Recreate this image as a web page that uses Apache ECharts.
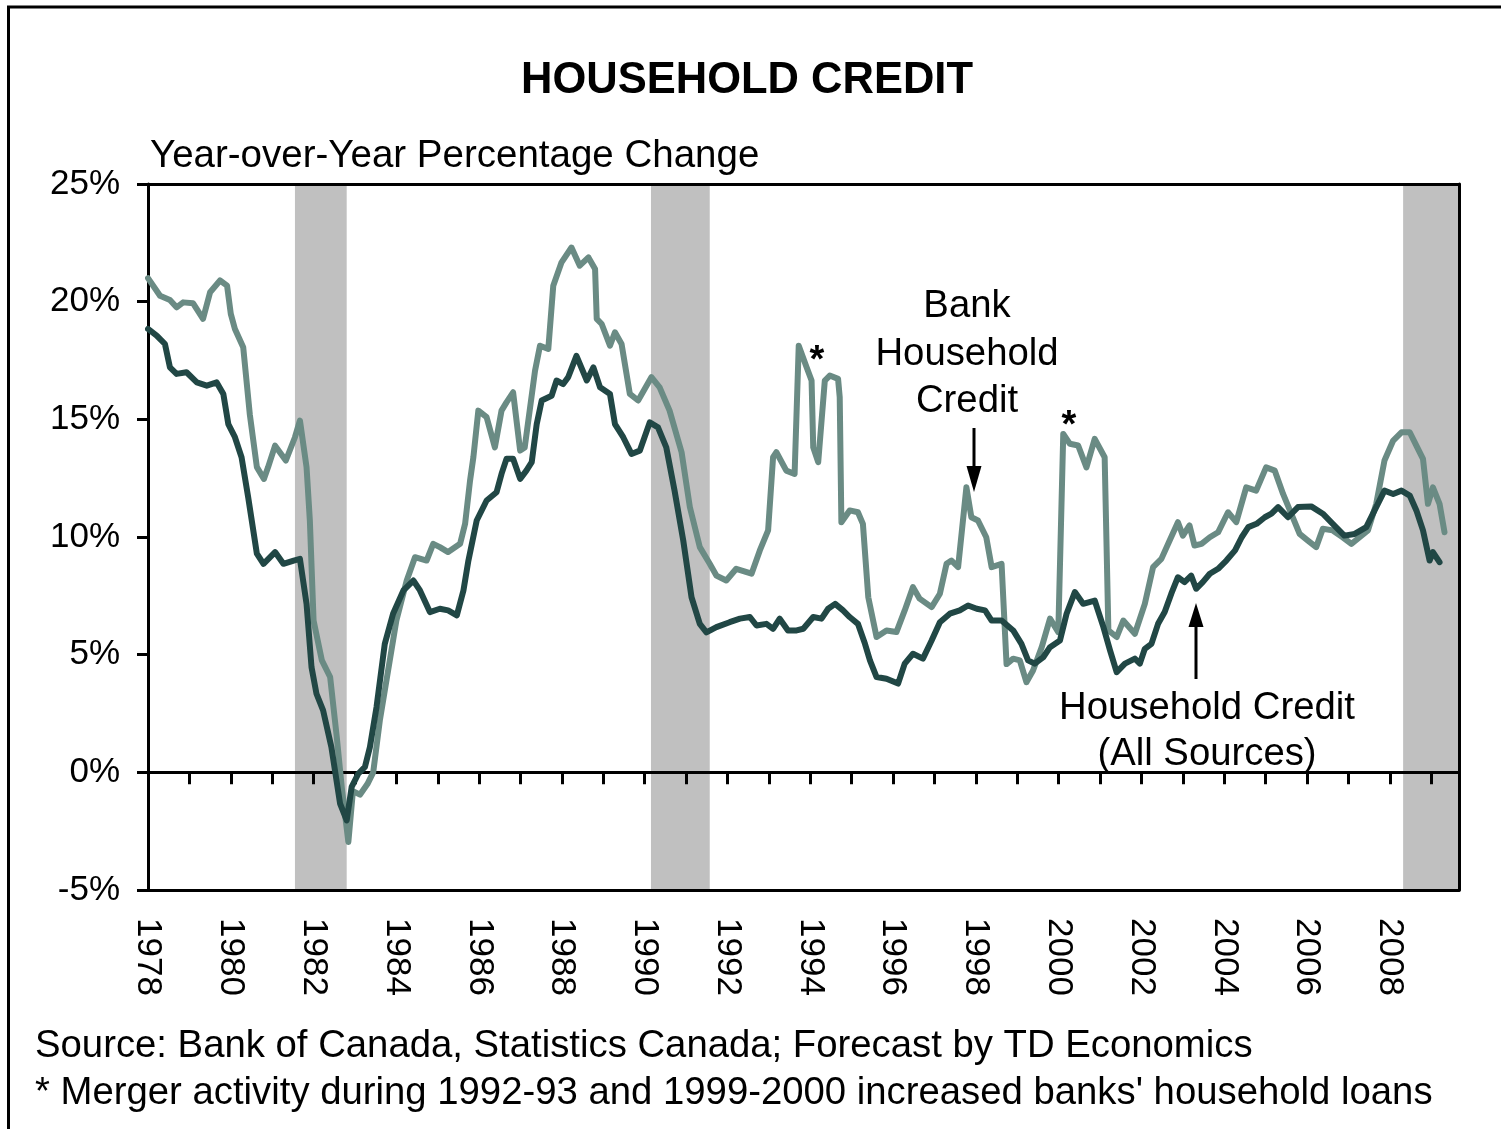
<!DOCTYPE html>
<html>
<head>
<meta charset="utf-8">
<script src="https://cdn.jsdelivr.net/npm/echarts@6/dist/echarts.min.js"></script>
<style>
html,body{margin:0;padding:0;background:#fff;}
#chart{width:1501px;height:1129px;}
</style>
</head>
<body>
<div id="chart"></div>
<script>
// ---- Data ----
const yTicks = [-5, 0, 5, 10, 15, 20, 25];
const recessions = [[1981.55, 1982.8], [1990.15, 1991.57], [2008.32, 2009.67]];

// Bank household credit, y/y % change  [year, value]
const bankCredit = [
[1978.00,21.0],[1978.29,20.25],[1978.53,20.07],[1978.69,19.76],[1978.85,19.97],[1979.09,19.93],
[1979.33,19.27],[1979.50,20.4],[1979.74,20.9],[1979.91,20.68],[1980.00,19.48],[1980.10,18.84],
[1980.30,18.06],[1980.46,15.2],[1980.63,12.97],[1980.80,12.47],[1980.90,12.96],[1981.07,13.88],
[1981.33,13.25],[1981.55,14.24],[1981.67,14.95],[1981.83,12.97],[1981.91,10.7],[1982.00,6.45],
[1982.20,4.76],[1982.40,4.05],[1982.56,1.5],[1982.68,-0.62],[1982.84,-2.96],[1982.95,-0.8],
[1983.12,-0.95],[1983.30,-0.5],[1983.44,0.0],[1983.60,2.2],[1983.80,4.33],[1984.00,6.45],
[1984.25,8.15],[1984.45,9.14],[1984.73,9.0],[1984.89,9.71],[1985.05,9.57],[1985.25,9.36],
[1985.54,9.71],[1985.66,10.56],[1985.78,12.4],[1985.86,13.39],[1985.98,15.37],[1986.18,15.09],
[1986.38,13.81],[1986.54,15.37],[1986.66,15.72],[1986.82,16.15],[1986.99,13.67],[1987.10,13.8],
[1987.35,17.07],[1987.47,18.13],[1987.67,17.99],[1987.79,20.68],[1987.99,21.67],[1988.23,22.3],
[1988.43,21.53],[1988.64,21.88],[1988.80,21.39],[1988.84,19.27],[1988.96,19.05],[1989.16,18.13],
[1989.28,18.7],[1989.44,18.2],[1989.64,16.08],[1989.84,15.8],[1990.16,16.79],[1990.36,16.36],
[1990.60,15.37],[1990.89,13.6],[1991.09,11.27],[1991.33,9.57],[1991.57,8.86],[1991.73,8.36],
[1991.97,8.15],[1992.21,8.65],[1992.58,8.44],[1992.78,9.43],[1992.98,10.28],[1993.10,13.39],
[1993.18,13.6],[1993.42,12.82],[1993.62,12.68],[1993.72,18.13],[1993.91,17.21],[1994.03,16.65],
[1994.07,13.81],[1994.19,13.18],[1994.35,16.65],[1994.47,16.86],[1994.67,16.72],[1994.71,15.94],
[1994.75,10.63],[1994.95,11.13],[1995.15,11.05],[1995.27,10.56],[1995.40,7.44],[1995.60,5.75],
[1995.84,6.03],[1996.08,5.96],[1996.28,6.88],[1996.48,7.87],[1996.64,7.38],[1996.93,7.02],
[1997.13,7.59],[1997.29,8.86],[1997.41,9.0],[1997.57,8.72],[1997.77,12.11],[1997.89,10.84],
[1998.05,10.7],[1998.25,9.99],[1998.38,8.72],[1998.62,8.86],[1998.74,4.6],[1998.90,4.83],
[1999.06,4.76],[1999.22,3.83],[1999.38,4.33],[1999.59,5.32],[1999.79,6.53],[1999.99,5.96],
[2000.11,14.38],[2000.27,13.96],[2000.47,13.89],[2000.67,12.96],[2000.87,14.17],[2001.11,13.39],
[2001.20,6.03],[2001.40,5.75],[2001.56,6.45],[2001.84,5.89],[2002.08,7.16],[2002.28,8.72],
[2002.48,9.07],[2002.68,9.85],[2002.88,10.63],[2003.00,10.06],[2003.16,10.49],[2003.28,9.64],
[2003.45,9.71],[2003.65,9.99],[2003.85,10.2],[2004.09,11.05],[2004.29,10.63],[2004.53,12.11],
[2004.77,11.97],[2005.01,12.96],[2005.22,12.82],[2005.42,11.83],[2005.62,10.98],[2005.82,10.13],
[2006.02,9.85],[2006.22,9.57],[2006.38,10.35],[2006.62,10.28],[2006.86,9.99],[2007.07,9.71],
[2007.27,9.99],[2007.47,10.28],[2007.67,11.41],[2007.87,13.25],[2008.08,14.1],[2008.28,14.45],
[2008.48,14.45],[2008.64,13.88],[2008.80,13.32],[2008.92,11.41],[2009.04,12.11],[2009.20,11.41],
[2009.32,10.2]
];

// Household credit (all sources), y/y % change  [year, value]
const householdCredit = [
[1978.00,18.84],[1978.21,18.56],[1978.41,18.2],[1978.53,17.21],[1978.69,16.93],[1978.93,17.0],
[1979.18,16.57],[1979.42,16.43],[1979.66,16.57],[1979.82,16.08],[1979.94,14.8],[1980.10,14.24],
[1980.26,13.39],[1980.42,11.69],[1980.63,9.29],[1980.79,8.86],[1981.07,9.36],[1981.27,8.86],
[1981.52,9.0],[1981.67,9.07],[1981.83,7.16],[1981.95,4.47],[1982.07,3.34],[1982.23,2.63],
[1982.43,1.07],[1982.64,-1.33],[1982.80,-2.04],[1982.92,-0.62],[1983.08,-0.06],[1983.24,0.23],
[1983.36,1.07],[1983.52,2.77],[1983.72,5.46],[1983.92,6.74],[1984.17,7.73],[1984.41,8.15],
[1984.57,7.73],[1984.81,6.81],[1985.05,6.95],[1985.25,6.88],[1985.46,6.67],[1985.62,7.73],
[1985.74,9.0],[1985.94,10.7],[1986.18,11.55],[1986.42,11.9],[1986.54,12.68],[1986.66,13.32],
[1986.82,13.32],[1986.99,12.47],[1987.14,12.82],[1987.27,13.18],[1987.39,14.8],[1987.51,15.8],
[1987.75,16.0],[1987.87,16.65],[1988.03,16.5],[1988.15,16.79],[1988.35,17.7],[1988.60,16.65],
[1988.76,17.21],[1988.92,16.36],[1989.16,16.08],[1989.28,14.8],[1989.48,14.24],[1989.68,13.53],
[1989.88,13.67],[1990.12,14.87],[1990.32,14.66],[1990.52,13.81],[1990.72,11.97],[1990.93,9.85],
[1991.13,7.44],[1991.33,6.31],[1991.49,5.95],[1991.73,6.17],[1992.05,6.38],[1992.30,6.53],
[1992.54,6.6],[1992.70,6.24],[1992.94,6.31],[1993.10,6.1],[1993.26,6.53],[1993.46,6.03],
[1993.67,6.03],[1993.83,6.1],[1994.07,6.6],[1994.27,6.53],[1994.43,6.95],[1994.60,7.16],
[1994.79,6.88],[1994.95,6.6],[1995.15,6.31],[1995.32,5.46],[1995.44,4.76],[1995.60,4.05],
[1995.84,3.98],[1996.12,3.77],[1996.28,4.62],[1996.48,5.04],[1996.72,4.83],[1996.93,5.6],
[1997.13,6.38],[1997.37,6.74],[1997.61,6.88],[1997.81,7.09],[1998.02,6.95],[1998.22,6.88],
[1998.38,6.45],[1998.62,6.45],[1998.90,6.03],[1999.10,5.46],[1999.26,4.76],[1999.42,4.62],
[1999.63,4.9],[1999.79,5.32],[2000.03,5.6],[2000.19,6.74],[2000.39,7.66],[2000.59,7.16],
[2000.87,7.3],[2001.08,6.17],[2001.24,5.18],[2001.40,4.26],[2001.60,4.62],[2001.84,4.83],
[2001.96,4.62],[2002.08,5.25],[2002.24,5.46],[2002.40,6.31],[2002.56,6.81],[2002.72,7.59],
[2002.88,8.29],[2003.04,8.08],[2003.20,8.36],[2003.32,7.8],[2003.48,8.08],[2003.65,8.44],
[2003.85,8.65],[2004.05,9.0],[2004.26,9.43],[2004.42,9.99],[2004.58,10.42],[2004.78,10.56],
[2004.98,10.84],[2005.14,10.99],[2005.30,11.27],[2005.54,10.84],[2005.78,11.27],[2006.10,11.3],
[2006.38,10.99],[2006.62,10.56],[2006.90,10.06],[2007.15,10.13],[2007.43,10.42],[2007.67,11.27],
[2007.87,11.97],[2008.08,11.83],[2008.28,11.97],[2008.48,11.76],[2008.64,11.13],[2008.80,10.28],
[2008.96,9.0],[2009.04,9.36],[2009.20,8.93]
];

const titleText = 'HOUSEHOLD CREDIT';
const yAxisTitle = 'Year-over-Year Percentage Change';
const sourceText = 'Source: Bank of Canada, Statistics Canada; Forecast by TD Economics';
const noteText = "* Merger activity during 1992-93 and 1999-2000 increased banks' household loans";

// ---- Chart ----
const FONT = '"Liberation Sans", Arial, Helvetica, sans-serif';
const X_MIN = 1978, X_MAX = 2009.67;
const chart = echarts.init(document.getElementById('chart'), null, {renderer: 'canvas', width: 1501, height: 1129});

const txt = (x, y, text, size, align, weight) => ({
  type: 'text', x: x, y: y, z: 100,
  style: {text: text, x: 0, y: 0, fill: '#000', font: (weight || 'normal') + ' ' + size + 'px ' + FONT,
          textAlign: align || 'left', textVerticalAlign: 'middle'}
});

const option = {
  animation: false,
  backgroundColor: '#fff',
  grid: {left: 148, top: 184, right: 42, bottom: 239, containLabel: false},
  xAxis: [
    { // bottom axis with year labels
      type: 'value', min: X_MIN, max: X_MAX, interval: 1, position: 'bottom', z: 5,
      axisLine: {show: true, onZero: false, lineStyle: {color: '#000', width: 3}},
      axisTick: {show: false},
      splitLine: {show: false},
      axisLabel: {
        show: true, rotate: -90, margin: 28, showMaxLabel: false,
        fontFamily: FONT, fontSize: 35, color: '#000',
        formatter: v => (Number.isInteger(v) && v % 2 === 0) ? String(v) : ''
      }
    },
    { // zero line with yearly ticks
      type: 'value', min: X_MIN, max: X_MAX, interval: 1, position: 'bottom', z: 5,
      axisLine: {show: true, onZero: true, lineStyle: {color: '#000', width: 3}},
      axisTick: {show: true, length: 12, lineStyle: {color: '#000', width: 3}},
      axisLabel: {show: false},
      splitLine: {show: false}
    },
    { // top frame
      type: 'value', min: X_MIN, max: X_MAX, position: 'top', z: 5,
      axisLine: {show: true, onZero: false, lineStyle: {color: '#000', width: 3}},
      axisTick: {show: false}, axisLabel: {show: false}, splitLine: {show: false}
    }
  ],
  yAxis: [
    {
      type: 'value', min: -5, max: 25, interval: 5, position: 'left', z: 5,
      axisLine: {show: true, onZero: false, lineStyle: {color: '#000', width: 3}},
      axisTick: {show: true, length: 11, lineStyle: {color: '#000', width: 3}},
      splitLine: {show: false},
      axisLabel: {fontFamily: FONT, fontSize: 35, color: '#000', margin: 28, padding: [4, 0, 0, 0],
                  formatter: v => yTicks.includes(v) ? v + '%' : ''}
    },
    {
      type: 'value', min: -5, max: 25, interval: 5, position: 'right', z: 5,
      axisLine: {show: true, onZero: false, lineStyle: {color: '#000', width: 3}},
      axisTick: {show: false}, axisLabel: {show: false}, splitLine: {show: false}
    }
  ],
  series: [
    {
      name: 'recessions', type: 'line', data: [], z: 1, silent: true,
      markArea: {
        silent: true,
        itemStyle: {color: '#c0c0c0'},
        data: recessions.map(r => [{xAxis: r[0]}, {xAxis: r[1]}])
      }
    },
    {
      name: 'Bank Household Credit', type: 'line', data: bankCredit, z: 10,
      showSymbol: false, symbol: 'none', smooth: false,
      lineStyle: {color: '#6a8b84', width: 6, join: 'round', cap: 'round'}
    },
    {
      name: 'Household Credit (All Sources)', type: 'line', data: householdCredit, z: 11,
      showSymbol: false, symbol: 'none', smooth: false,
      lineStyle: {color: '#214745', width: 6, join: 'round', cap: 'round'}
    }
  ],
  graphic: [
    {type: 'rect', z: 100, shape: {x: 8.5, y: 7, width: 1700, height: 1400},
     style: {fill: 'none', stroke: '#000', lineWidth: 3}},
    txt(747, 81, titleText, 43.5, 'center', 'bold'),
    txt(150, 156, yAxisTitle, 38.5, 'left'),
    txt(35, 1046, sourceText, 38.3, 'left'),
    txt(35, 1093, noteText, 38.3, 'left'),
    txt(967, 306, 'Bank', 38.3, 'center'),
    txt(967, 354, 'Household', 38.3, 'center'),
    txt(967, 401, 'Credit', 38.3, 'center'),
    txt(817, 362, '*', 38, 'center', 'bold'),
    txt(1069, 427, '*', 38, 'center', 'bold'),
    txt(1207, 708, 'Household Credit', 38.3, 'center'),
    txt(1207, 754, '(All Sources)', 38.3, 'center'),
    {type: 'polyline', z: 100, shape: {points: [[974, 428], [974, 470]]}, style: {stroke: '#000', lineWidth: 3}},
    {type: 'polygon', z: 100, shape: {points: [[966.5, 466], [981.5, 466], [974, 492]]}, style: {fill: '#000'}},
    {type: 'polyline', z: 100, shape: {points: [[1196, 679], [1196, 622]]}, style: {stroke: '#000', lineWidth: 3}},
    {type: 'polygon', z: 100, shape: {points: [[1188.5, 627], [1203.5, 627], [1196, 603]]}, style: {fill: '#000'}}
  ]
};
chart.setOption(option);
</script>
</body>
</html>
